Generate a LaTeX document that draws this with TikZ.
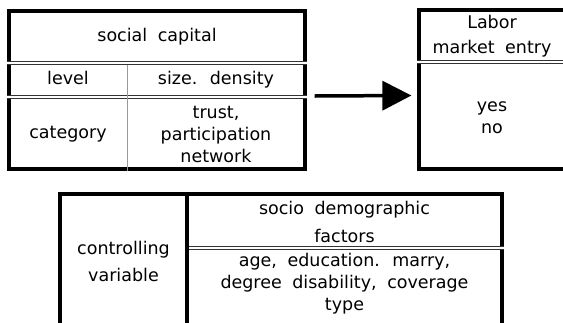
\documentclass[tikz,border=0pt]{standalone}
\usepackage{fontspec}
\setmainfont{DejaVu Sans}[WordSpace=1.9]
\usetikzlibrary{arrows.meta}

\begin{document}
\begin{tikzpicture}[x=1pt,y=-1pt,
	cell/.style={align=center,inner sep=0pt,font=\fontsize{17.5}{22}\selectfont},
	one/.style={text height=13pt,text depth=4pt},
	frame/.style={draw,line width=3.2pt,inner sep=0pt},
	rule/.style={draw=black!80,double,double distance=1.3pt,line width=0.9pt},
	sep/.style={draw=black!40,line width=0.9pt}]
\useasboundingbox (0,0) rectangle (563,322);
\clip (0,0) rectangle (563,322);

%social capital table on the left
\node[frame,minimum width=296pt,minimum height=158pt] (sc) at (157,90) {};
\foreach \y in {63,97}{
	\draw[rule] (sc.west |- 0,\y) -- (sc.east |- 0,\y);
}
\draw[sep] (127,65) -- (sc.south -| 127,0);
\node[cell,one] (title) at (157,37) {social capital};
\node[cell,one] (lvl) at (68,80) {level};
\node[cell,one] (size) at (216,80) {size. density};
\node[cell,one] (cat) at (68,134) {category};
\node[cell] (trust) at (216,134) {trust,\\participation\\network};

%outcome box on the right
\node[frame,minimum width=146pt,minimum height=159pt] (lm) at (492,89.5) {};
\draw[rule] (lm.west |- 0,62) -- (lm.east |- 0,62);
\node[cell,font=\fontsize{17.5}{25}\selectfont] (entry) at (492,36.5) {Labor\\market entry};
\node[cell] (yn) at (492,118) {yes\\no};

\draw[line width=3.5pt,-{Triangle[length=29pt,width=29pt]}] ([xshift=8pt,yshift=-6pt]sc.east) -- ([xshift=-6pt,yshift=-6pt]lm.west);

%controlling variables below
\node[frame,minimum width=442pt,minimum height=160pt] (ctrl) at (281,274) {};
\draw[frame] (ctrl.north -| 187,0) -- (ctrl.south -| 187,0);
\draw[rule] (189,248) -- (ctrl.east |- 0,248);
\node[cell,font=\fontsize{17.5}{27}\selectfont] (cv) at (123.5,261) {controlling\\variable};
\node[cell,font=\fontsize{17.5}{28}\selectfont] (socio) at (344.5,222) {socio demographic\\factors};
\node[cell] (age) at (344.5,284) {age, education. marry,\\degree disability, coverage\\type};
\end{tikzpicture}
\end{document}
